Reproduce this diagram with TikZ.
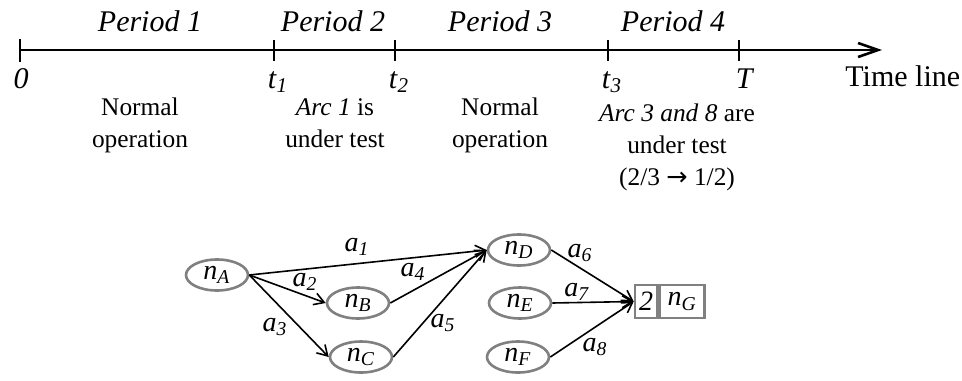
\documentclass[tikz,border=0pt]{standalone}
\usepackage{fontspec}
\setmainfont{Liberation Serif}
\newfontfamily\symfont{DejaVu Sans}
\usetikzlibrary{arrows.meta,shapes.geometric}
\definecolor{vgray}{RGB}{128,128,128}
\newcommand{\isub}[2]{\textit{#1}\textsubscript{\textit{#2}}}
\begin{document}
\begin{tikzpicture}[x=0.5pt,y=-0.5pt,
  big/.style={font=\fontsize{15}{18}\selectfont, inner sep=0pt, anchor=base},
  desc/.style={font=\fontsize{12.7}{16}\selectfont, align=center, inner sep=0pt, anchor=base},
  vert/.style={draw=vgray, line width=1.3pt, ellipse, minimum width=31pt,
    minimum height=15.5pt, inner sep=0pt, font=\fontsize{14}{16}\selectfont},
  cell/.style={draw=vgray, line width=1.3pt, rectangle, minimum height=16.5pt,
    inner sep=0pt, font=\fontsize{14}{16}\selectfont},
  edge/.style={line width=0.8pt, -{Straight Barb[length=5pt,width=6pt]}},
  lab/.style={font=\fontsize{14}{16}\selectfont, inner sep=0pt},
  tick/.style={line width=1.2pt}]
\useasboundingbox (0,0) rectangle (962,380);

% ---- time line ----
\coordinate (s) at (20,50);
\coordinate (e) at (882,50);
\draw[line width=1.3pt, -{Straight Barb[length=10pt,width=7pt]}] (s) -- (e);
\draw[tick] (20,39) -- (20,62);
\foreach \x in {274,395,608,739} \draw[tick] (\x,40) -- (\x,61);

\node[big] (p1) at (150,32) {\textit{Period 1}};
\node[big] (p2) at (333,32) {\textit{Period 2}};
\node[big] (p3) at (500,32) {\textit{Period 3}};
\node[big] (p4) at (673,32) {\textit{Period 4}};

\node[big] (k0) at (21,88) {\textit{0}};
\node[big] (k1) at (278,88) {\isub{t}{1}};
\node[big] (k2) at (399,88) {\isub{t}{2}};
\node[big] (k3) at (612,88) {\isub{t}{3}};
\node[big] (k4) at (745,88) {\textit{T}};
\node[big, anchor=base west] (tl) at (845,86) {Time line};

% multi-line labels are placed by the baseline of their last line
\node[desc] (d1) at (140,147) {Normal\\operation};
\node[desc] (d2) at (335,147) {\textit{Arc 1} is\\under test};
\node[desc] (d3) at (500,147) {Normal\\operation};
\node[desc] (d4) at (677,185) {\textit{Arc 3 and 8} are\\under test\\(2/3 {\symfont\char"2192} 1/2)};

% ---- network ----
\node[vert] (nA) at (217,275) {\isub{n}{A}};
\node[vert] (nB) at (358,303) {\isub{n}{B}};
\node[vert] (nC) at (361,357) {\isub{n}{C}};
\node[vert] (nD) at (519,250) {\isub{n}{D}};
\node[vert] (nE) at (520,303) {\isub{n}{E}};
\node[vert] (nF) at (518,357) {\isub{n}{F}};
\node[cell, minimum width=11pt] (g2) at (646,301.5) {\textit{2}};
\node[cell, minimum width=22.5pt, anchor=west] (gG) at (g2.east) {\isub{n}{G}};

\draw[edge] (nA.east) -- (nD.west);
\draw[edge] (nA.east) -- (nB.west);
\draw[edge] (nA.east) -- (nC.west);
\draw[edge] (nB.east) -- (nD.west);
\draw[edge] (nC.east) -- (nD.west);
\draw[edge] (nD.east) -- (g2.west);
\draw[edge] (nE.east) -- (g2.west);
\draw[edge] (nF.east) -- (g2.west);

\node[lab] (l1) at (357,247) {\isub{a}{1}};
\node[lab] (l2) at (305,282) {\isub{a}{2}};
\node[lab] (l3) at (275,327) {\isub{a}{3}};
\node[lab] (l4) at (413,272) {\isub{a}{4}};
\node[lab] (l5) at (443,323) {\isub{a}{5}};
\node[lab] (l6) at (580,253) {\isub{a}{6}};
\node[lab] (l7) at (577,292) {\isub{a}{7}};
\node[lab] (l8) at (595,347) {\isub{a}{8}};
\end{tikzpicture}
\end{document}
